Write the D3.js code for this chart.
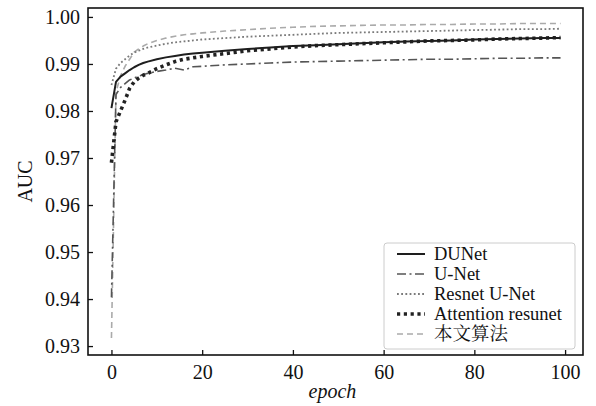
<!DOCTYPE html>
<html>
<head>
<meta charset="utf-8">
<script src="https://cdn.jsdelivr.net/npm/d3@7"></script>
<style>
html,body{margin:0;padding:0;background:#fff;}
svg{display:block;}
</style>
</head>
<body>
<script>
const epochs = [0,1,2,3,4,5,6,7,8,10,12,14,16,18,20,25,30,35,40,45,50,55,60,65,70,75,80,85,90,95,99];
const dunet = [0.9806,0.9862,0.9873,0.9880,0.9887,0.9893,0.9898,0.9902,0.9905,0.9910,0.9914,0.9917,0.9920,0.9922,0.9924,0.9928,0.9932,0.9935,0.9938,0.9940,0.9942,0.9944,0.9946,0.9948,0.9949,0.9950,0.9952,0.9953,0.9954,0.9955,0.9955];
const unet = [0.9404,0.9835,0.9850,0.9858,0.9866,0.9870,0.9874,0.9877,0.9880,0.9884,0.9887,0.9891,0.9887,0.9894,0.9895,0.9898,0.9900,0.9902,0.9904,0.9905,0.9906,0.9907,0.9908,0.9909,0.9910,0.9910,0.9911,0.9912,0.9912,0.9913,0.9913];
const resnet = [0.9855,0.9890,0.9902,0.9910,0.9918,0.9924,0.9928,0.9932,0.9935,0.9939,0.9943,0.9946,0.9948,0.9950,0.9952,0.9955,0.9958,0.9960,0.9962,0.9964,0.9966,0.9967,0.9968,0.9969,0.9970,0.9971,0.9972,0.9973,0.9974,0.9974,0.9975];
const attention = [0.9690,0.9777,0.9800,0.9823,0.9848,0.9862,0.9870,0.9876,0.9880,0.9890,0.9898,0.9905,0.9910,0.9913,0.9916,0.9922,0.9928,0.9932,0.9936,0.9939,0.9941,0.9943,0.9945,0.9947,0.9949,0.9950,0.9951,0.9953,0.9954,0.9955,0.9956];
const ours = [0.9317,0.9840,0.9875,0.9895,0.9910,0.9925,0.9932,0.9938,0.9943,0.9950,0.9955,0.9959,0.9962,0.9964,0.9966,0.9970,0.9973,0.9976,0.9978,0.9980,0.9981,0.9982,0.9983,0.9983,0.9984,0.9984,0.9985,0.9985,0.9986,0.9986,0.9986];
const seriesNames = ["DUNet","U-Net","Resnet U-Net","Attention resunet","本文算法"];
const xTicks = [0,20,40,60,80,100];
const yTicks = [0.93,0.94,0.95,0.96,0.97,0.98,0.99,1.00];

const W = 596, H = 406;
const L = 88, R = 583, T = 8, B = 355;
const svg = d3.select("body").append("svg").attr("width", W).attr("height", H);
const x = d3.scaleLinear().domain([-4.95, 103.95]).range([L + 1, R]);
const y = d3.scaleLinear().domain([0.9281, 1.0019]).range([B, T]);

const font = "'Liberation Serif','Times New Roman',serif";

const styles = [
  {data: dunet, color: "#1e1e1e", width: 2, dash: null, cap: "butt"},
  {data: unet, color: "#555", width: 1.6, dash: "9,3.5,2,3.5", cap: "butt"},
  {data: resnet, color: "#7a7a7a", width: 1.8, dash: "1.8,2.4", cap: "butt"},
  {data: attention, color: "#222", width: 3.6, dash: "3.2,3.6", cap: "butt"},
  {data: ours, color: "#aaa", width: 1.6, dash: "6,4", cap: "butt"}
];

svg.append("clipPath").attr("id", "clip").append("rect")
  .attr("x", L).attr("y", T).attr("width", R - L).attr("height", B - T);

const line = d3.line().x((d, i) => x(epochs[i])).y(d => y(d));
const g = svg.append("g").attr("clip-path", "url(#clip)");
[4,2,1,3,0].forEach(k => {
  const s = styles[k];
  g.append("path").datum(s.data).attr("d", line)
    .attr("fill", "none").attr("stroke", s.color).attr("stroke-width", s.width)
    .attr("stroke-dasharray", s.dash).attr("stroke-linecap", s.cap)
    .attr("stroke-linejoin", "round");
});

const xAxis = d3.axisBottom(x).tickValues(xTicks).tickSizeInner(-5).tickSizeOuter(0).tickPadding(10).tickFormat(d3.format("d"));
const yAxis = d3.axisLeft(y).tickValues(yTicks).tickSizeInner(-5).tickSizeOuter(0).tickPadding(8).tickFormat(d3.format(".2f"));
const gx = svg.append("g").attr("transform", `translate(0,${B})`).call(xAxis);
const gy = svg.append("g").attr("transform", `translate(${L},0)`).call(yAxis);
[gx, gy].forEach(a => {
  a.select(".domain").remove();
  a.selectAll(".tick line").attr("stroke", "#111").attr("stroke-width", 1.3);
  a.selectAll(".tick text").attr("font-family", font).attr("font-size", 20).attr("fill", "#111");
});
gx.selectAll(".tick text").attr("dy", "0.71em");

svg.append("rect").attr("x", L).attr("y", T).attr("width", R - L).attr("height", B - T)
  .attr("fill", "none").attr("stroke", "#111").attr("stroke-width", 1.6);

svg.append("text").attr("x", (L + R) / 2 - 3).attr("y", 398)
  .attr("text-anchor", "middle").attr("font-family", font).attr("font-style", "italic")
  .attr("font-size", 20).attr("fill", "#111").text("epoch");
svg.append("text").attr("transform", `translate(32,${(T + B) / 2}) rotate(-90)`)
  .attr("text-anchor", "middle").attr("font-family", font)
  .attr("font-size", 20).attr("fill", "#111").text("AUC");

const lg = svg.append("g");
lg.append("rect").attr("x", 384).attr("y", 243).attr("width", 191).attr("height", 106)
  .attr("rx", 3).attr("fill", "#fff").attr("fill-opacity", 0.9)
  .attr("stroke", "#ccc").attr("stroke-width", 1);
seriesNames.forEach((name, i) => {
  const s = styles[i];
  const cy = 254 + i * 20;
  lg.append("line").attr("x1", 397).attr("x2", 425).attr("y1", cy).attr("y2", cy)
    .attr("stroke", s.color).attr("stroke-width", s.width)
    .attr("stroke-dasharray", s.dash).attr("stroke-linecap", s.cap);
  lg.append("text").attr("x", 434).attr("y", cy + 6)
    .attr("font-family", "'Liberation Serif','Times New Roman','Noto Serif CJK SC','Noto Sans CJK SC',serif")
    .attr("font-size", 18.5).attr("fill", "#111").text(name);
});
</script>
</body>
</html>
